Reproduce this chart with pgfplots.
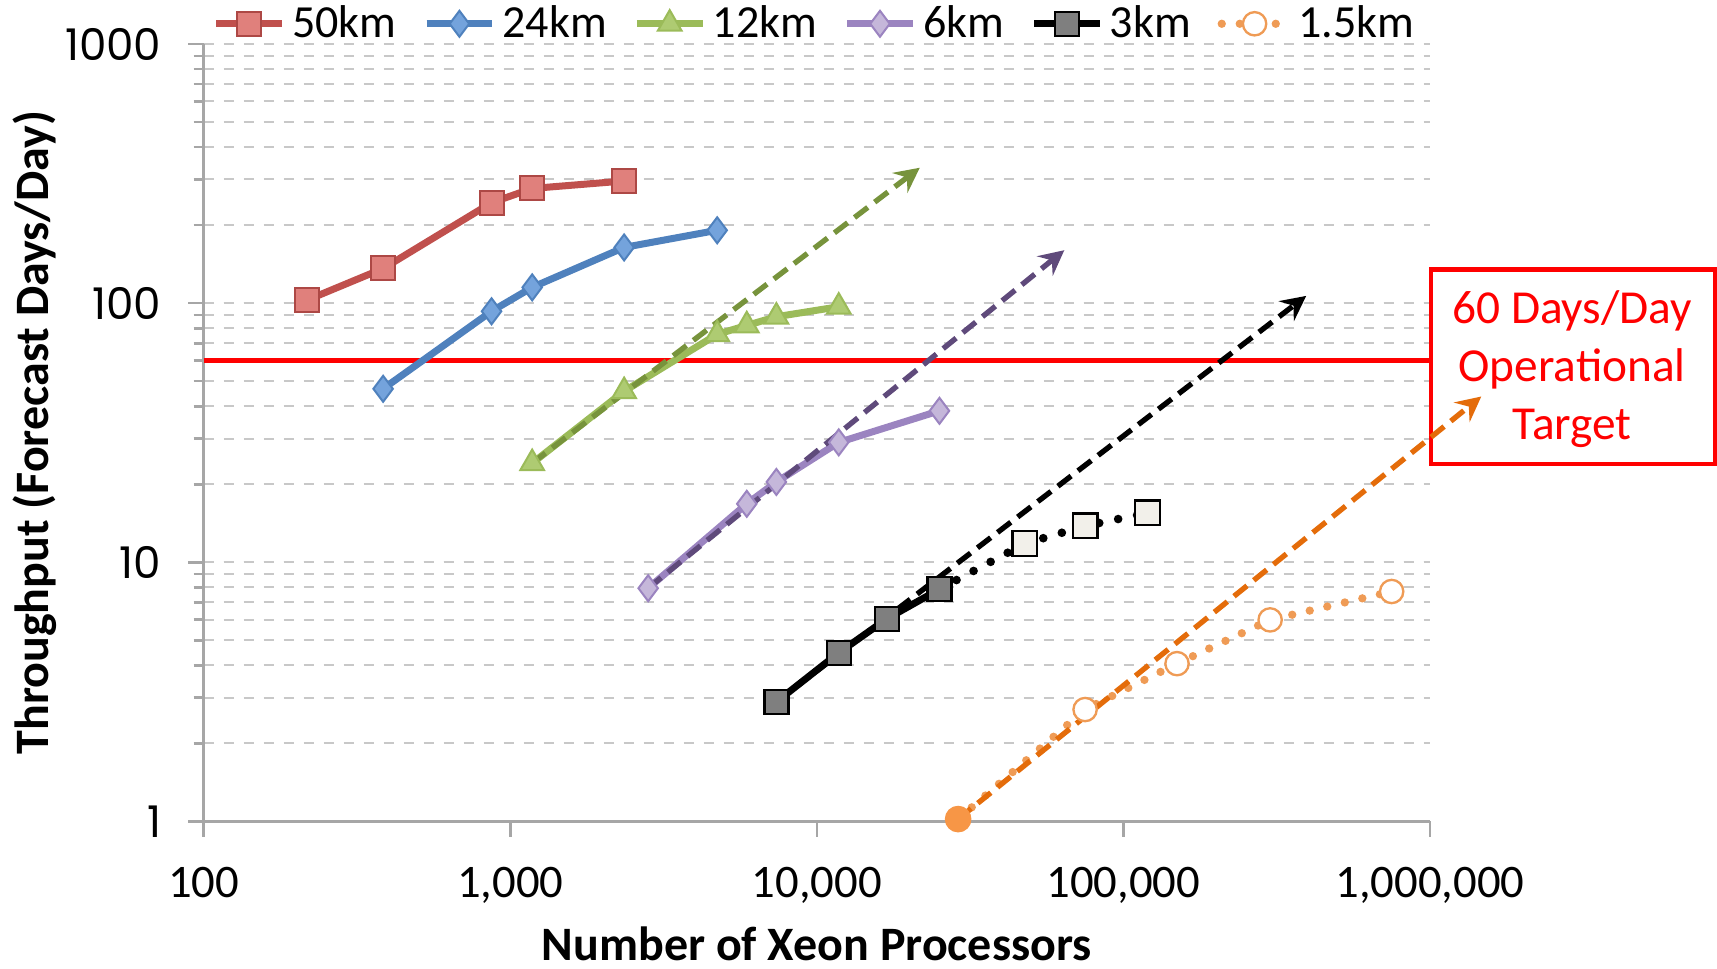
\documentclass[border=0pt]{standalone}
\usepackage{fontspec}
\setmainfont{Carlito}
\newfontfamily\tickfont{Poppins}
\usepackage{pgfplots}
\pgfplotsset{compat=1.18}
\usetikzlibrary{arrows.meta}
\definecolor{r50}{HTML}{C0504D}
\definecolor{r50f}{HTML}{E0807C}
\definecolor{b24}{HTML}{4F81BD}
\definecolor{b24f}{HTML}{74A3DC}
\definecolor{g12}{HTML}{9BBB59}
\definecolor{g12f}{HTML}{AECB72}
\definecolor{g12d}{HTML}{77933C}
\definecolor{p6}{HTML}{9B84C0}
\definecolor{p6f}{HTML}{C5B7DA}
\definecolor{p6d}{HTML}{5F4A7B}
\definecolor{k3f}{HTML}{7F7F7F}
\definecolor{k3w}{HTML}{F2F0EA}
\definecolor{o15}{HTML}{F79646}
\definecolor{o15l}{HTML}{EF9B55}
\definecolor{o15d}{HTML}{E46C0A}
\definecolor{gridc}{HTML}{C8C8C8}
\definecolor{axc}{HTML}{A6A6A6}
\begin{document}
\begin{tikzpicture}
\begin{axis}[
  name=ax,
  scale only axis, width=367.9pt, height=233.2pt,
  xmode=log, ymode=log,
  xmin=100, xmax=1000000, ymin=1, ymax=1000,
  axis x line*=bottom, axis y line*=left,
  axis line style={axc, line width=0.8pt},
  xtick={100,1000,10000,100000,1000000},
  xticklabels={100,{1,000},{10,000},{100,000},{1,000,000}},
  ytick={1,10,100,1000},
  yticklabels={1,10,100,1000},
  xminorticks=false,
  tick align=outside,
  major tick length=4.6pt, minor tick length=3pt,
  tick style={axc, line width=0.8pt},
  ymajorgrids, yminorgrids,
  major grid style={gridc, dashed, line width=0.6pt},
  minor grid style={gridc, dashed, line width=0.6pt},
  ticklabel style={text=black},
  xticklabel style={font=\fontsize{14}{16}\selectfont, anchor=north, inner sep=0pt, yshift=-9.1pt},
  yticklabel style={font=\tickfont\fontsize{13.1}{15}\selectfont, anchor=east, inner sep=0pt, xshift=-7.9pt},
  clip=false,
  legend columns=6,
  legend style={draw=none, fill=none, at={(0.5,1.026)}, anchor=center,
    font=\fontsize{13.8}{16}\selectfont, inner sep=0pt,
    /tikz/every even column/.append style={column sep=6pt}},
  legend image code/.code={\draw[mark repeat=2,mark phase=2,#1] plot coordinates {(0pt,0pt)(9.85pt,0pt)(19.7pt,0pt)};},
  xlabel={Number of Xeon Processors},
  ylabel={Throughput (Forecast Days/Day)},
  label style={font=\bfseries\fontsize{14.4}{17}\selectfont},
  xlabel style={at={(axis description cs:0.5,-0.157)}, anchor=center},
  ylabel style={at={(axis description cs:-0.1375,0.5)}, anchor=center},
]
% 60 days/day target line
\addplot[red, line width=1.6pt, forget plot] coordinates {(100,60) (1000000,60)};

% 50km
\addplot[r50, line width=2.1pt, mark=square*, mark size=3.6pt, mark options={fill=r50f, draw=r50!90!black, line width=0.6pt}]
  coordinates {(217,102.6) (385,136) (869,244) (1179,277) (2352,296)};
\addlegendentry{50km}
% 24km
\addplot[b24, line width=2.1pt, mark=diamond*, mark size=3.9pt, mark options={fill=b24f, draw=b24, line width=0.6pt}]
  coordinates {(385,46.7) (869,93) (1179,115) (2352,164) (4732,191)};
\addlegendentry{24km}
% 12km
\addplot[g12, line width=2.1pt, mark=triangle*, mark size=4.1pt, mark options={fill=g12f, draw=g12, line width=0.6pt}]
  coordinates {(1179,24.1) (2352,45.7) (4732,75.8) (5908,82) (7380,88.6) (11790,96.8)};
\addlegendentry{12km}
% 6km
\addplot[p6, line width=2.1pt, mark=diamond*, mark size=3.9pt, mark options={fill=p6f, draw=p6, line width=0.6pt}]
  coordinates {(2818,7.94) (5908,16.8) (7380,20.4) (11790,29) (25120,38.4)};
\addlegendentry{6km}
% 3km dotted extension
\addplot[black, line width=2.6pt, dash pattern=on 0pt off 5.8pt, line cap=round, mark=square*, mark size=3.7pt, mark indices={2,3,4},
  mark options={solid, fill=k3w, draw=black, line width=0.7pt}, forget plot]
  coordinates {(25120,7.87) (47700,11.8) (75000,13.8) (119900,15.5)};
% 3km
\addplot[black, line width=2.1pt, mark=square*, mark size=3.6pt, mark options={fill=k3f, draw=black, line width=0.7pt}]
  coordinates {(7380,2.89) (11790,4.47) (16930,6.05) (25120,7.87)};
\addlegendentry{3km}
% 1.5km
\addplot[o15l, line width=2.5pt, dash pattern=on 0pt off 5.4pt, line cap=round, mark=*, mark size=3.5pt,
  mark options={solid, fill=white, draw=o15l, line width=0.7pt}]
  coordinates {(28900,1.02) (75000,2.70) (149600,4.06) (301000,5.99) (750000,7.71)};
\addlegendentry{1.5km}
\addplot[only marks, mark=*, mark size=3.8pt, mark options={fill=o15, draw=o15}, forget plot]
  coordinates {(28900,1.02)};

% target box
\draw[red, line width=1.3pt, fill=white] (axis cs:1010000,23.9) rectangle (axis cs:8490000,134.6);
\node[red, align=center, font=\fontsize{14.2}{17.3}\selectfont] at (axis cs:2910000,55.6) {60 Days/Day\\Operational\\Target};

% ideal-scaling arrows
\addplot[g12d, line width=1.6pt, dash pattern=on 5pt off 2.6pt, -{Stealth[length=7.5pt,width=7.5pt,inset=2.7pt]}, forget plot]
  coordinates {(1179,24.1) (21670,333)};
\addplot[p6d, line width=1.6pt, dash pattern=on 5pt off 2.6pt, -{Stealth[length=7.5pt,width=7.5pt,inset=2.7pt]}, forget plot]
  coordinates {(2818,7.94) (64150,160)};
\addplot[black, line width=1.6pt, dash pattern=on 5pt off 2.6pt, -{Stealth[length=7.5pt,width=7.5pt,inset=2.7pt]}, forget plot]
  coordinates {(7380,2.89) (394700,106.6)};
\addplot[o15d, line width=1.6pt, dash pattern=on 5pt off 2.6pt, -{Stealth[length=7.5pt,width=7.5pt,inset=2.7pt]}, forget plot]
  coordinates {(28900,1.02) (1470000,43.6)};
\end{axis}
\pgfresetboundingbox
\path ([xshift=-61.1pt,yshift=-44.3pt]ax.south west) rectangle ++(515.1pt,290.7pt);
\end{tikzpicture}
\end{document}
